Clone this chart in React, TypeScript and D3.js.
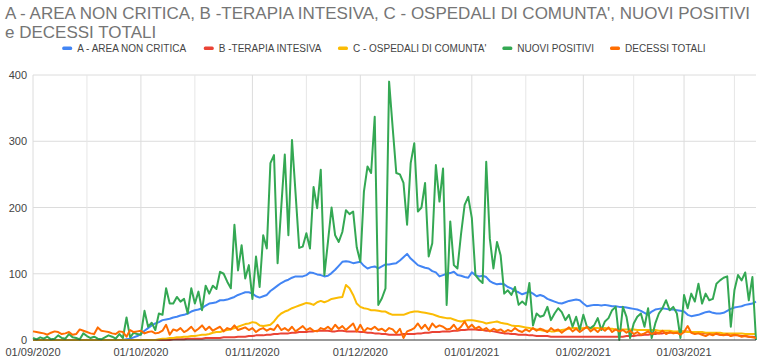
import React from 'react';
import * as d3 from 'd3';

const TITLE_LINES = [
  "A - AREA NON CRITICA, B -TERAPIA INTESIVA, C - OSPEDALI DI COMUNTA', NUOVI POSITIVI",
  'e DECESSI TOTALI',
];
const SERIES_NAMES = [
  'A - AREA NON CRITICA',
  'B -TERAPIA INTESIVA',
  "C - OSPEDALI DI COMUNTA'",
  'NUOVI POSITIVI',
  'DECESSI TOTALI',
];
const COLORS = ['#4285f4', '#ea4335', '#fbbc04', '#34a853', '#ff6d01'];

const START_DATE = '2020-09-01';
const END_DATE = '2021-03-21';

// daily values from 01/09/2020 to 21/03/2021
const A_AREA_NON_CRITICA = [
  0,0,0,0,0,0,0,0,0,0, 0,0,0,0,0,0,0,0,0,0, 0,0,0,0,0,0,1,2,4,6,
  9,14,18,22,25,27,30,31,32,34, 35,37,38,40,43,45,46,48,52,55, 56,57,60,60,61,63,65,68,70,72, 72,
  70,66,64,66,68,74,78,82,86,89, 91,94,96,96,96,98,102,101,99,98, 96,97,101,106,112,118,119,118,116,117,
  118,112,108,110,111,108,111,114,114,115, 116,120,125,130,123,118,113,111,109,108, 104,102,96,98,100,101,103,98,97,95, 94,
  102,98,96,97,95,89,86,84,85,84, 80,78,74,72,69,71,73,70,66,68, 66,62,60,58,56,55,57,59,60,61, 60,
  55,51,52,53,53,52,53,52,51,51, 50,50,49,48,47,46,44,41,38,43, 46,47,48,47,46,46,45,44,
  43,38,36,37,38,40,42,43,41,40, 40,41,44,47,49,50,51,53,54,55, 58,
];
const B_TERAPIA_INTENSIVA = [
  0,0,0,0,0,0,0,0,0,0, 0,0,0,0,0,0,0,0,0,0, 0,0,0,0,0,0,0,0,0,0,
  0,0,0,0,0,0,0,0,0,1, 1,1,1,2,2,2,2,2,3,3, 3,3,3,4,4,4,4,5,5,5, 6,
  6,7,7,7,8,8,9,9,10,10, 10,11,11,12,12,12,13,13,14,14, 14,14,13,13,14,14,13,13,13,13,
  12,12,11,11,10,10,9,9,8,8, 8,8,9,9,9,9,10,10,11,11, 12,12,12,13,13,13,14,14,15,15, 16,
  16,16,15,15,14,14,13,12,11,10, 10,9,9,8,8,8,7,7,6,6, 6,6,5,5,5,5,5,5,5,5, 5,
  5,5,5,5,5,5,5,5,5,5, 5,5,6,6,6,7,7,8,8,9, 9,10,10,11,11,12,12,13,
  13,13,12,12,11,11,10,10,9,9, 8,8,8,7,7,7,6,6,5,5, 4,
];
const C_OSPEDALI_COMUNITA = [
  0,0,0,0,0,0,0,0,0,0, 0,0,0,0,0,0,0,0,0,0, 0,0,0,0,0,0,0,0,0,0,
  0,0,0,0,0,1,2,2,3,3, 4,4,5,5,6,6,7,8,8,9, 11,12,12,14,15,16,18,20,22,24, 25,
  27,26,22,21,22,23,28,35,40,43, 45,48,50,52,54,56,55,53,57,59, 57,59,62,63,64,65,83,78,68,55,
  50,48,47,45,45,44,43,43,40,38, 38,38,38,40,42,43,43,42,41,40, 39,37,35,34,33,33,31,29,28,29, 30,
  30,29,28,27,25,26,27,28,26,25, 24,22,21,21,20,19,18,17,16,15, 14,14,13,13,14,15,16,17,18,18, 17,
  18,18,17,18,18,17,18,17,17,16, 16,16,16,16,16,15,15,15,15,15, 15,14,14,14,14,13,13,13,
  13,12,12,12,12,12,11,11,11,11, 11,10,10,10,10,10,10,9,9,9, 9,
];
const NUOVI_POSITIVI = [
  3,1,4,2,5,1,2,7,3,2, 9,4,3,1,10,6,3,5,2,1, 4,7,5,2,9,3,34,4,11,9,
  8,44,20,26,15,40,38,78,55,55, 65,58,62,40,78,55,73,45,82,70, 82,77,103,100,88,78,174,105,143,93, 113,
  62,126,80,158,138,267,279,116,199,280, 158,302,221,139,141,161,138,231,199,257, 98,148,200,158,148,163,196,190,194,140,
  118,224,262,252,337,53,63,78,390,320, 252,250,237,174,267,297,194,200,237,126, 146,264,209,259,53,179,113,108,160,204, 216,
  184,98,91,86,269,153,108,148,128,70, 75,68,80,53,58,53,86,22,40,35, 37,50,30,40,48,42,30,38,20,35, 15,
  38,20,18,22,33,15,28,33,45,50, 0,50,35,3,25,35,40,20,48,3, 25,40,48,60,45,50,40,3,
  68,48,70,58,85,55,70,60,62,85, 90,94,96,20,75,98,90,102,60,95, 0,
];
const DECESSI_TOTALI = [
  13,12,11,10,8,11,13,12,9,10, 12,8,9,16,14,12,10,9,19,14, 13,12,10,9,13,12,5,15,12,13,
  14,10,12,13,10,11,14,23,8,16, 14,18,12,15,20,13,17,22,15,20, 14,17,20,13,18,16,22,15,17,19, 15,
  18,12,16,18,14,17,15,23,15,18, 14,20,13,17,21,15,18,14,13,18, 16,20,15,23,17,21,15,20,25,13,
  23,13,18,16,20,15,17,13,18,16, 10,17,3,13,15,18,25,17,23,15, 25,19,22,20,16,17,23,15,20,28, 18,
  23,17,20,15,18,13,17,14,16,12, 15,13,18,14,12,16,13,18,14,17, 15,12,18,14,16,11,15,19,13,17, 12,
  16,20,13,17,12,18,14,19,12,16, 13,15,11,14,9,12,8,10,13,9, 12,10,14,9,12,10,11,8,
  12,21,11,9,10,8,6,9,7,10, 8,7,9,6,8,7,5,6,5,4, 3,
];
const SERIES = [A_AREA_NON_CRITICA, B_TERAPIA_INTENSIVA, C_OSPEDALI_COMUNITA, NUOVI_POSITIVI, DECESSI_TOTALI];

const Y_TICKS = [0, 100, 200, 300, 400];
const X_TICK_DATES = ['2020-09-01', '2020-10-01', '2020-11-01', '2020-12-01', '2021-01-01', '2021-02-01', '2021-03-01'];
const X_TICK_LABELS = ['01/09/2020', '01/10/2020', '01/11/2020', '01/12/2020', '01/01/2021', '01/02/2021', '01/03/2021'];
const X_MINOR_DATES = ['2020-09-16', '2020-10-16', '2020-11-16', '2020-12-16', '2021-01-16', '2021-02-15', '2021-03-15'];

const W = 768;
const H = 363;
const M = { left: 33, right: 12, top: 75, bottom: 23 };
const FONT = 'Arial, "Liberation Sans", sans-serif';

const parse = d3.timeParse('%Y-%m-%d');

function textWidth(s: string, font: string): number {
  const c = document.createElement('canvas').getContext('2d');
  if (!c) return s.length * 6;
  c.font = font;
  return c.measureText(s).width;
}

export default function App() {
  const start = parse(START_DATE) as Date;
  const end = parse(END_DATE) as Date;
  const x = d3.scaleTime().domain([start, end]).range([M.left, W - M.right]);
  const y = d3.scaleLinear().domain([0, 400]).range([H - M.bottom, M.top]);

  const line = d3
    .line<number>()
    .x((_, i) => x(d3.timeDay.offset(start, i)))
    .y((v) => y(v));

  // legend layout
  const legendFont = `10px ${FONT}`;
  const swW = 10;
  const swGap = 5;
  const itemGap = 16;
  const widths = SERIES_NAMES.map((s) => textWidth(s, legendFont));
  const total = widths.reduce((a, b) => a + b, 0) + SERIES_NAMES.length * (swW + swGap) + (SERIES_NAMES.length - 1) * itemGap;
  let cx = W / 2 - total / 2;
  const legendItems = SERIES_NAMES.map((name, i) => {
    const item = { name, x: cx, color: COLORS[i] };
    cx += swW + swGap + widths[i] + itemGap;
    return item;
  });

  const majorDates = X_TICK_DATES.map((d) => parse(d) as Date);
  const minorDates = X_MINOR_DATES.map((d) => parse(d) as Date);

  return (
    <svg
      width={W}
      height={H}
      style={{ position: 'absolute', left: 0, top: 0, background: '#fff' }}
      fontFamily={FONT}
    >
      <rect x={0} y={0} width={W} height={H} fill="#fff" />
      {TITLE_LINES.map((t, i) => (
        <text key={i} x={5} y={18.5 + i * 19} fontSize={17} fill="#757575">
          {t}
        </text>
      ))}
      {legendItems.map((it) => (
        <g key={it.name}>
          <rect x={it.x} y={46.5} width={swW} height={3.5} rx={1.5} fill={it.color} />
          <text x={it.x + swW + swGap} y={51.8} fontSize={10} fill="#444">
            {it.name}
          </text>
        </g>
      ))}
      {/* grid */}
      {Y_TICKS.filter((t) => t > 0).map((t) => (
        <line key={'h' + t} x1={M.left} x2={W - M.right} y1={y(t)} y2={y(t)} stroke="#dcdcdc" strokeWidth={1} />
      ))}
      {minorDates.map((d, i) => (
        <line key={'m' + i} x1={x(d)} x2={x(d)} y1={M.top} y2={H - M.bottom} stroke="#e6e6e6" strokeWidth={1} />
      ))}
      {majorDates.map((d, i) => (
        <line key={'M' + i} x1={x(d)} x2={x(d)} y1={M.top} y2={H - M.bottom} stroke="#dcdcdc" strokeWidth={1} />
      ))}
      {/* series */}
      {SERIES.map((s, i) => (
        <path
          key={SERIES_NAMES[i]}
          d={line(s) || ''}
          fill="none"
          stroke={COLORS[i]}
          strokeWidth={2}
          strokeLinejoin="round"
        />
      ))}
      {/* baseline */}
      <line x1={M.left} x2={W - M.right} y1={y(0)} y2={y(0)} stroke="#333" strokeWidth={1} />
      {/* y labels */}
      {Y_TICKS.map((t) => (
        <text key={'y' + t} x={27} y={y(t) + 4} fontSize={11} fill="#444" textAnchor="end">
          {t}
        </text>
      ))}
      {/* x labels */}
      {majorDates.map((d, i) => (
        <text key={'x' + i} x={x(d)} y={356} fontSize={11} fill="#444" textAnchor="middle">
          {X_TICK_LABELS[i]}
        </text>
      ))}
    </svg>
  );
}
